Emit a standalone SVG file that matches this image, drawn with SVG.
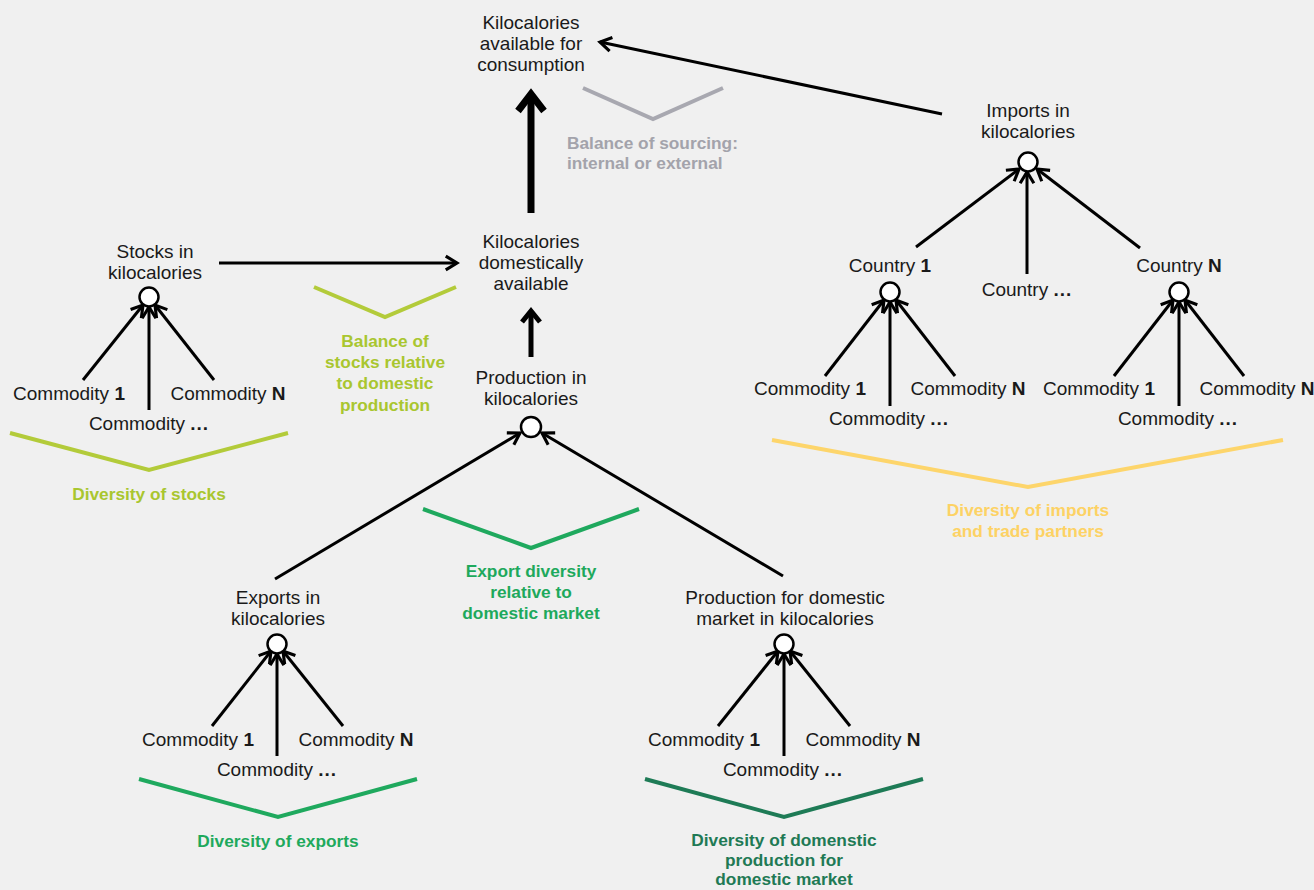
<svg xmlns="http://www.w3.org/2000/svg" width="1314" height="890" viewBox="0 0 1314 890">
<defs>
<marker id="ah" markerUnits="userSpaceOnUse" markerWidth="20" markerHeight="20" viewBox="-12 -8 14 16" refX="0" refY="0" orient="auto">
<path d="M-9,-5.5 L0,0 L-9,5.5" fill="none" stroke="#000" stroke-width="2.5"/>
</marker>
</defs>
<style>
text{font-family:"Liberation Sans",Arial,sans-serif;font-size:19px;fill:#1a1a1a;text-anchor:middle}
.b{font-weight:bold}
.d{font-weight:bold;letter-spacing:1px}
.lab{font-weight:bold;font-size:17.3px}
.gray{fill:#a3a3ab}
.lime{fill:#a9c62f}
.grn{fill:#1ea95c}
.dgr{fill:#1f7a55}
.yel{fill:#fdd264}
.con{stroke:#000;stroke-width:3;fill:none;marker-end:url(#ah)}
.circ{fill:#fff;stroke:#000;stroke-width:2.5}
.chev{fill:none;stroke-width:4}
</style>
<rect width="1314" height="890" fill="#f0f0f0"/>

<g id="connectors">
<line x1="531" y1="213" x2="531" y2="94" stroke="#000" stroke-width="7"/>
<polyline points="518,111 531,94 544,111" fill="none" stroke="#000" stroke-width="7" stroke-linejoin="miter"/>
<line x1="531" y1="357" x2="531" y2="312" stroke="#000" stroke-width="5"/>
<polyline points="522,322 531,311 540,322" fill="none" stroke="#000" stroke-width="5"/>
<line class="con" x1="942" y1="114" x2="600" y2="42"/>
<line class="con" x1="219" y1="263" x2="457" y2="263"/>
<line class="con" x1="916" y1="247" x2="1019" y2="169"/>
<line class="con" x1="1027" y1="274" x2="1027" y2="172"/>
<line class="con" x1="1140" y1="248" x2="1037" y2="169"/>
<line class="con" x1="825" y1="376" x2="884" y2="300"/>
<line class="con" x1="890" y1="406" x2="890" y2="302"/>
<line class="con" x1="955" y1="376" x2="896" y2="300"/>
<line class="con" x1="1114" y1="376" x2="1173" y2="300"/>
<line class="con" x1="1179" y1="406" x2="1179" y2="302"/>
<line class="con" x1="1244" y1="376" x2="1185" y2="300"/>
<line class="con" x1="83" y1="380" x2="143" y2="305"/>
<line class="con" x1="149" y1="410" x2="149" y2="307"/>
<line class="con" x1="214" y1="380" x2="155" y2="305"/>
<line class="con" x1="275" y1="579" x2="520" y2="433"/>
<line class="con" x1="783" y1="576" x2="542" y2="433"/>
<line class="con" x1="212" y1="726" x2="271" y2="651"/>
<line class="con" x1="277" y1="756" x2="277" y2="654"/>
<line class="con" x1="343" y1="726" x2="283" y2="651"/>
<line class="con" x1="718" y1="726" x2="778" y2="651"/>
<line class="con" x1="784" y1="756" x2="784" y2="654"/>
<line class="con" x1="850" y1="726" x2="790" y2="651"/>
</g>

<g id="n-consumption">
<text x="531" y="29">Kilocalories</text>
<text x="531" y="50">available for</text>
<text x="531" y="71">consumption</text>
</g>
<g id="n-sourcing">
<polyline class="chev" points="583,88 653,119 723,88" stroke="#a8a8b0"/>
<text class="lab gray" x="567" y="149" style="text-anchor:start">Balance of sourcing:</text>
<text class="lab gray" x="567" y="169" style="text-anchor:start">internal or external</text>
</g>
<g id="n-imports">
<text x="1028" y="117">Imports in</text>
<text x="1028" y="138">kilocalories</text>
<circle class="circ" cx="1028" cy="162" r="9.5"/>
</g>
<g id="n-country1">
<text x="890" y="272">Country <tspan class="b">1</tspan></text>
<circle class="circ" cx="890" cy="292" r="9.5"/>
</g>
<g id="n-countrydots">
<text x="1027" y="296">Country <tspan class="d">...</tspan></text>
</g>
<g id="n-countryN">
<text x="1179" y="272">Country <tspan class="b">N</tspan></text>
<circle class="circ" cx="1179" cy="292" r="9.5"/>
</g>
<g id="n-c1-commodities">
<text x="810" y="395">Commodity <tspan class="b">1</tspan></text>
<text x="889" y="425">Commodity <tspan class="d">...</tspan></text>
<text x="968" y="395">Commodity <tspan class="b">N</tspan></text>
</g>
<g id="n-cN-commodities">
<text x="1099" y="395">Commodity <tspan class="b">1</tspan></text>
<text x="1178" y="425">Commodity <tspan class="d">...</tspan></text>
<text x="1257" y="395">Commodity <tspan class="b">N</tspan></text>
</g>
<g id="n-div-imports">
<polyline class="chev" points="772,440 1028,487 1283,440" stroke="#fdd56b"/>
<text class="lab yel" x="1028" y="516">Diversity of imports</text>
<text class="lab yel" x="1028" y="537">and trade partners</text>
</g>

<g id="n-stocks">
<text x="155" y="258">Stocks in</text>
<text x="155" y="279">kilocalories</text>
<circle class="circ" cx="149" cy="297" r="9.5"/>
</g>
<g id="n-stocks-commodities">
<text x="69" y="400">Commodity <tspan class="b">1</tspan></text>
<text x="149" y="430">Commodity <tspan class="d">...</tspan></text>
<text x="228" y="400">Commodity <tspan class="b">N</tspan></text>
</g>
<g id="n-div-stocks">
<polyline class="chev" points="10,433 149,470 288,433" stroke="#b3cb3a"/>
<text class="lab lime" x="149" y="500">Diversity of stocks</text>
</g>

<g id="n-domestic">
<text x="531" y="248">Kilocalories</text>
<text x="531" y="269">domestically</text>
<text x="531" y="290">available</text>
</g>
<g id="n-balance-stocks">
<polyline class="chev" points="314,287 385,317 456,287" stroke="#b3cb3a"/>
<text class="lab lime" x="385" y="347">Balance of</text>
<text class="lab lime" x="385" y="368">stocks relative</text>
<text class="lab lime" x="385" y="389">to domestic</text>
<text class="lab lime" x="385" y="411">production</text>
</g>

<g id="n-production">
<text x="531" y="384">Production in</text>
<text x="531" y="405">kilocalories</text>
<circle class="circ" cx="531" cy="427" r="10"/>
</g>
<g id="n-export-balance">
<polyline class="chev" points="423,509 531,548 639,509" stroke="#1fa95e"/>
<text class="lab grn" x="531" y="577">Export diversity</text>
<text class="lab grn" x="531" y="598">relative to</text>
<text class="lab grn" x="531" y="619">domestic market</text>
</g>

<g id="n-exports">
<text x="278" y="604">Exports in</text>
<text x="278" y="625">kilocalories</text>
<circle class="circ" cx="277" cy="644" r="9.5"/>
</g>
<g id="n-exports-commodities">
<text x="198" y="746">Commodity <tspan class="b">1</tspan></text>
<text x="277" y="776">Commodity <tspan class="d">...</tspan></text>
<text x="356" y="746">Commodity <tspan class="b">N</tspan></text>
</g>
<g id="n-div-exports">
<polyline class="chev" points="139,779 278,817 417,779" stroke="#1fa95e"/>
<text class="lab grn" x="278" y="847">Diversity of exports</text>
</g>

<g id="n-prod-domestic">
<text x="785" y="604">Production for domestic</text>
<text x="785" y="625">market in kilocalories</text>
<circle class="circ" cx="784" cy="644" r="9.5"/>
</g>
<g id="n-prod-domestic-commodities">
<text x="704" y="746">Commodity <tspan class="b">1</tspan></text>
<text x="783" y="776">Commodity <tspan class="d">...</tspan></text>
<text x="863" y="746">Commodity <tspan class="b">N</tspan></text>
</g>
<g id="n-div-domestic">
<polyline class="chev" points="645,779 784,817 923,779" stroke="#1e7b56"/>
<text class="lab dgr" x="784" y="846">Diversity of domenstic</text>
<text class="lab dgr" x="784" y="866">production for</text>
<text class="lab dgr" x="784" y="885">domestic market</text>
</g>
</svg>
